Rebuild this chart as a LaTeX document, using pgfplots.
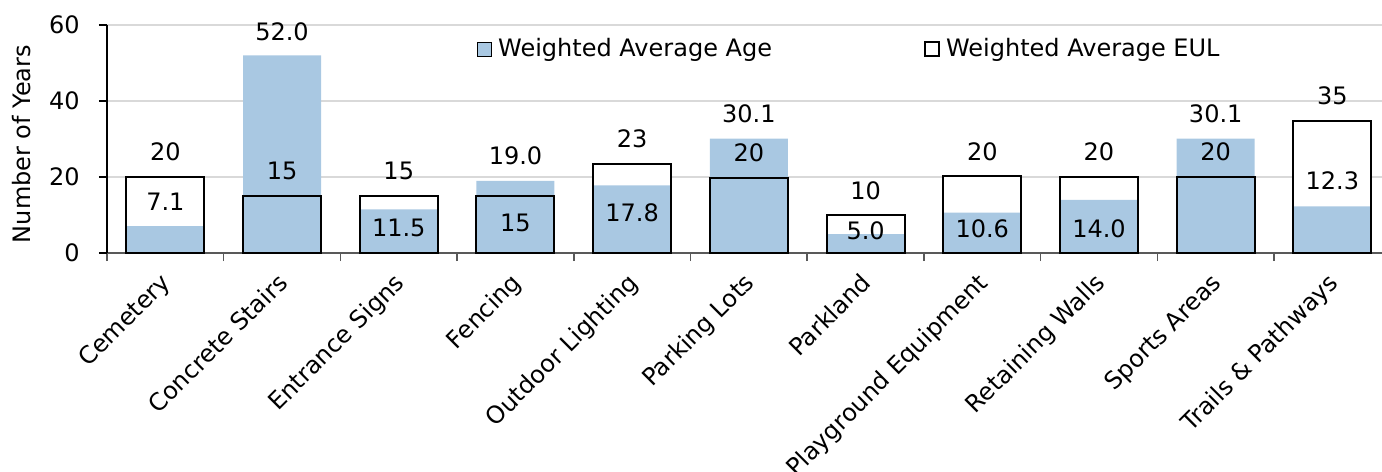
\documentclass[border=0pt]{standalone}
\usepackage{fontspec}
\setmainfont{DejaVu Sans}
\usepackage{pgfplots}
\pgfplotsset{compat=1.18}
\usepackage{pgfplotstable}
\definecolor{agebar}{RGB}{169,200,226}
\definecolor{gridgray}{RGB}{217,217,217}
\definecolor{xaxisgray}{RGB}{89,89,89}

\pgfplotstableread{
x age eul
0 7.1 20
1 52.0 15
2 11.5 15
3 19.0 15
4 17.8 23.5
5 30.1 19.7
6 5.0 10
7 10.6 20.3
8 14.0 20
9 30.1 20
10 12.3 34.7
}\bars

\pgfplotstableread{
x y lab
0 26.6 20
0 13.6 7.1
1 58.1 52.0
1 21.6 15
2 21.6 15
2 6.5 11.5
3 25.6 19.0
3 7.8 15
4 30.1 23
4 10.7 17.8
5 36.6 30.1
5 26.3 20
6 16.5 10
6 5.9 5.0
7 26.7 20
7 6.4 10.6
8 26.7 20
8 6.4 14.0
9 36.6 30.1
9 26.7 20
10 41.4 35
10 19.0 12.3
}\labels

\begin{document}
\fontsize{12bp}{14.4bp}\selectfont
\begin{tikzpicture}
\begin{axis}[
  scale only axis, width=637.5bp, height=114bp,
  xmin=-0.5, xmax=10.425, ymin=0, ymax=60,
  axis x line*=bottom, axis y line*=left,
  x axis line style={draw=xaxisgray, line width=1bp, -},
  y axis line style={draw=black, line width=0.75bp, -},
  tick align=outside,
  ytick={0,20,40,60},
  ymajorgrids, grid style={gridgray, line width=0.75bp},
  ytick style={black, line width=0.75bp},
  major tick length=4bp, minor tick length=4bp,
  xtick={0,...,10},
  xticklabels={Cemetery, Concrete Stairs, Entrance Signs, Fencing, Outdoor Lighting, Parking Lots, Parkland, Playground Equipment, Retaining Walls, Sports Areas, Trails \& Pathways},
  major x tick style={draw=none},
  minor xtick={-0.5,0.5,...,9.5},
  minor x tick style={draw=xaxisgray, line width=0.75bp},
  /pgf/number format/assume math mode=true,
  yticklabel style={anchor=east, inner sep=0pt, xshift=-9.5bp},
  xticklabel style={xshift=-3bp, yshift=-5bp, rotate=45, anchor=north east, inner sep=0pt},
  ylabel={Number of Years},
  every axis y label/.style={at={(axis description cs:-0.0667,0.478)}, rotate=90, anchor=center},
  legend columns=2,
  legend image code/.code={\draw[#1] (0bp,-3.5bp) rectangle (7bp,3.5bp);},
  legend style={draw=none, fill=none, at={(axis description cs:0.2902,0.895)}, anchor=west, inner sep=0pt,
    nodes={inner sep=0pt, anchor=west},
    /tikz/every odd column/.append style={column sep=3bp},
    /tikz/every even column/.append style={column sep=76bp}},
]
\addplot[ybar, bar width=39bp, fill=white, draw=none, forget plot] table[x=x, y=eul] {\bars};
\addplot[ybar, bar width=39bp, fill=agebar, draw=none] table[x=x, y=age] {\bars};
\addlegendentry{Weighted Average Age}
\addplot[ybar, bar width=39bp, fill=none, draw=black, line width=1bp] table[x=x, y=eul] {\bars};
\addlegendentry{Weighted Average EUL}
\addplot[draw=none, forget plot, nodes near coords={\pgfplotspointmeta}, point meta=explicit symbolic,
  nodes near coords style={anchor=center, inner sep=0pt}] table[x=x, y=y, meta=lab] {\labels};
\end{axis}
\pgfresetboundingbox
\path (-53.5bp,-109.5bp) rectangle (637.5bp,126.5bp);
\end{tikzpicture}
\end{document}
